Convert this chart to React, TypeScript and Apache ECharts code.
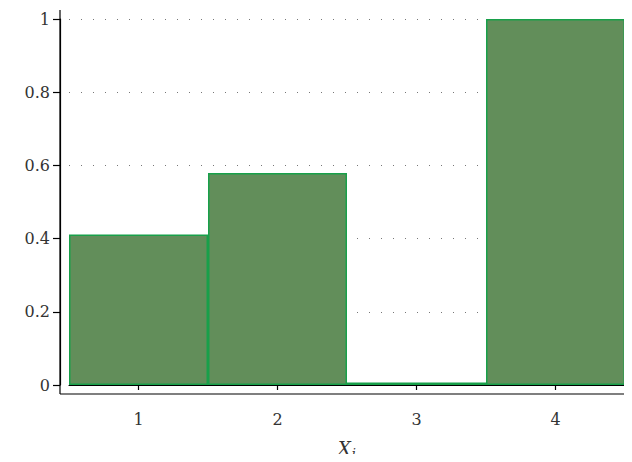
import React, { useEffect, useRef } from "react";
import * as echarts from "echarts";

const categories = ["1", "2", "3", "4"];
const values = [0.411, 0.579, 0.007, 1.0];

const FONT = "DejaVu Serif";

export default function App() {
  const ref = useRef<HTMLDivElement>(null);
  useEffect(() => {
    if (!ref.current) return;
    const chart = echarts.init(ref.current, undefined, { renderer: "svg" });
    chart.setOption({
      animation: false,
      backgroundColor: "#ffffff",
      textStyle: { fontFamily: FONT, fontSize: 16, color: "#333" },
      grid: { left: 69, right: 7, top: 19, bottom: 77, containLabel: false, outerBoundsMode: "none" },
      xAxis: {
        type: "category",
        data: categories,
        offset: 10,
        boundaryGap: true,
        axisLine: { show: true, lineStyle: { color: "#000", width: 1.2 } },
        axisTick: { show: true, alignWithLabel: true, length: 5, lineStyle: { color: "#000", width: 1.2 } },
        axisLabel: { margin: 16, fontFamily: FONT, fontSize: 16, color: "#333" },
        name: "{x|X}{s|i}",
        nameLocation: "middle",
        nameGap: 42,
        nameMoveOverlap: false,
        nameTextStyle: {
          rich: {
            x: { fontFamily: FONT, fontStyle: "italic", fontSize: 18, color: "#333" },
            s: { fontFamily: FONT, fontStyle: "italic", fontSize: 13, color: "#333", padding: [10, 0, 0, 1] },
          },
        },
      },
      yAxis: {
        type: "value",
        min: 0,
        max: 1,
        interval: 0.2,
        offset: 9,
        axisLine: { show: true, lineStyle: { color: "#000", width: 1.2 } },
        axisTick: { show: true, length: 7, lineStyle: { color: "#000", width: 1.2 } },
        axisLabel: {
          margin: 10,
          fontFamily: FONT,
          fontSize: 16,
          color: "#333",
          formatter: (v: number) => String(Math.round(v * 10) / 10),
        },
        splitLine: { show: true, lineStyle: { color: "#777", type: [1, 11], width: 1.2 } },
      },
      graphic: [
        { type: "line", shape: { x1: 60, y1: 10, x2: 60, y2: 394 }, style: { stroke: "#000", lineWidth: 1.2 } },
        { type: "line", shape: { x1: 60, y1: 394, x2: 632, y2: 394 }, style: { stroke: "#000", lineWidth: 1.2 } },
      ],
      series: [
        {
          type: "bar",
          data: values,
          barWidth: "100%",
          barGap: "0%",
          itemStyle: { color: "#628e5a", borderColor: "#18a04a", borderWidth: 1.5 },
        },
      ],
    });
    return () => chart.dispose();
  }, []);
  return <div ref={ref} style={{ width: 632, height: 462, margin: -8 }} />;
}
